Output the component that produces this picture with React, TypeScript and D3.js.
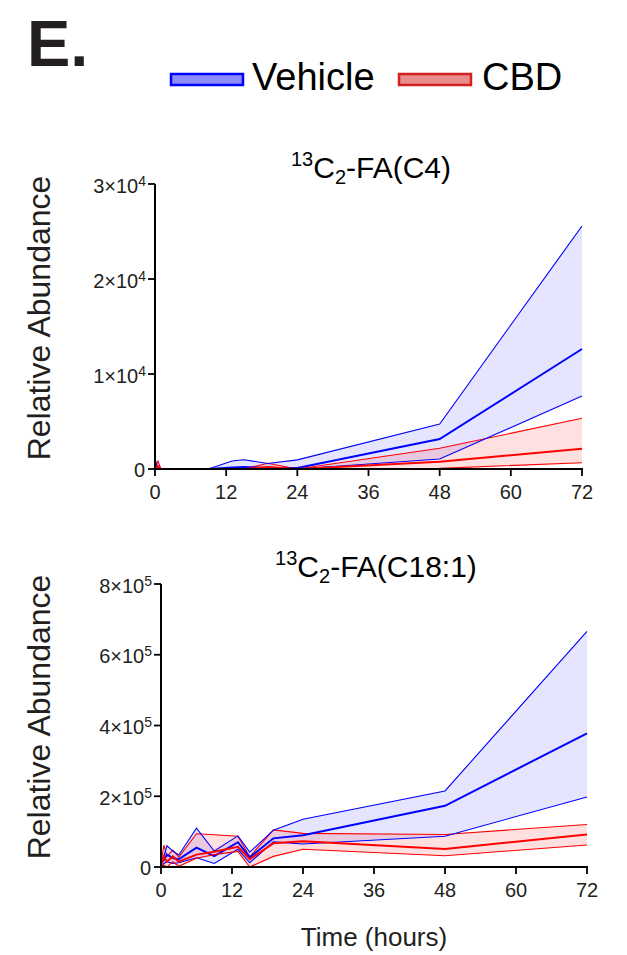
import React from 'react';
import * as d3 from 'd3';

// ---- Data ----
const times = [0, 0.5, 1, 2, 3, 6, 9, 13, 15, 19, 24, 48, 72];
const xTicks = [0, 12, 24, 36, 48, 60, 72];

// 13C2-FA(C4)
const vehMeanC4 = [300, 0, 0, 0, 0, 0, 0, 150, 200, 100, 100, 3150, 12630];
const vehUpperC4 = [1100, 0, 0, 0, 0, 0, 0, 850, 980, 580, 960, 4740, 25580];
const vehLowerC4 = [0, 0, 0, 0, 0, 0, 0, 0, 0, 0, 0, 1050, 7680];
const cbdMeanC4 = [0, 300, 0, 0, 0, 0, 0, 0, 0, 200, 0, 770, 2140];
const cbdUpperC4 = [0, 840, 0, 0, 0, 0, 0, 0, 0, 600, 0, 2180, 5340];
const cbdLowerC4 = [0, 0, 0, 0, 0, 0, 0, 0, 0, 0, 0, 70, 660];
const yTicksC4 = [0, 10000, 20000, 30000];

// 13C2-FA(C18:1)
const vehMeanC18 = [10000, 20000, 35000, 25000, 22000, 55000, 31000, 70000, 27000, 81000, 90000, 173000, 378000];
const vehUpperC18 = [20000, 30000, 60000, 45000, 34000, 110000, 45000, 88000, 42000, 104000, 135000, 215000, 666000];
const vehLowerC18 = [0, 10000, 15000, 10000, 12000, 26000, 10000, 50000, 12000, 71000, 65000, 87000, 198000];
const cbdMeanC18 = [5000, 30000, 15000, 30000, 15000, 35000, 43000, 57000, 22000, 67000, 73000, 51000, 92000];
const cbdUpperC18 = [10000, 62000, 30000, 48000, 28000, 94000, 91000, 87000, 29000, 105000, 95000, 92000, 120000];
const cbdLowerC18 = [0, 5000, 0, 15000, 2000, 25000, 35000, 44000, 0, 30000, 50000, 32000, 62000];
const yTicksC18 = [0, 200000, 400000, 600000, 800000];

const seriesNames = ['Vehicle', 'CBD'];

const FONT = "'Liberation Sans', Arial, Helvetica, sans-serif";
const BLUE = '#0000ff';
const RED = '#ff0000';
const BLUE_FILL = 'rgba(0,0,255,0.10)';
const RED_FILL = 'rgba(255,0,0,0.12)';

type Band = { mean: number[]; upper: number[]; lower: number[] };

function Panel(props: {
  x0: number; x1: number; yTop: number; yBot: number;
  yMax: number; yTicks: number[]; exp: number; labelY: number;
  title: React.ReactNode; titleX: number; titleY: number;
  veh: Band; cbd: Band; showXTitle?: boolean;
}) {
  const { x0, x1, yTop, yBot, yMax, yTicks, exp, veh, cbd } = props;
  const x = d3.scaleLinear().domain([0, 72]).range([x0, x1]);
  const y = d3.scaleLinear().domain([0, yMax]).range([yBot, yTop]);
  const idx = times.map((_, i) => i);
  const area = (b: Band) =>
    d3.area<number>().x(i => x(times[i])).y0(i => y(b.lower[i])).y1(i => y(b.upper[i]))(idx) || '';
  const line = (arr: number[]) => d3.line<number>().x(i => x(times[i])).y(i => y(arr[i]))(idx) || '';

  const tickLen = 7;
  return (
    <g>
      <text x={props.titleX} y={props.titleY} textAnchor="middle" fontFamily={FONT} fontSize={30} fill="#000">
        {props.title}
      </text>
      <path d={area(veh)} fill={BLUE_FILL} stroke="none" />
      <path d={area(cbd)} fill={RED_FILL} stroke="none" />
      <path d={line(cbd.upper)} fill="none" stroke={RED} strokeWidth={1.1} />
      <path d={line(veh.upper)} fill="none" stroke={BLUE} strokeWidth={1.1} />
      <path d={line(veh.lower)} fill="none" stroke={BLUE} strokeWidth={1.1} />
      <path d={line(veh.mean)} fill="none" stroke={BLUE} strokeWidth={2} />
      <path d={line(cbd.lower)} fill="none" stroke={RED} strokeWidth={1.1} />
      <path d={line(cbd.mean)} fill="none" stroke={RED} strokeWidth={2} />
      {/* axes */}
      <line x1={x0} x2={x0} y1={yTop} y2={yBot} stroke="#000" strokeWidth={2} />
      <line x1={x0 - 1} x2={x1 + 1} y1={yBot} y2={yBot} stroke="#000" strokeWidth={2} />
      {yTicks.map(v => (
        <g key={v}>
          <line x1={x0 - tickLen} x2={x0} y1={y(v)} y2={y(v)} stroke="#000" strokeWidth={1.8} />
          {v === 0 ? (
            <text x={x0 - tickLen - 3} y={y(v) + 7.5} textAnchor="end" fontFamily={FONT} fontSize={20} fill="#231f20">0</text>
          ) : (
            <text x={x0 - tickLen - 2} y={y(v) + 8.5} textAnchor="end" fontFamily={FONT} fontSize={20} fill="#231f20">
              {`${d3.format('d')(v / Math.pow(10, exp))}×10`}
              <tspan fontSize={14} dy={-7}>{exp}</tspan>
            </text>
          )}
        </g>
      ))}
      {xTicks.map(t => (
        <g key={t}>
          <line x1={x(t)} x2={x(t)} y1={yBot} y2={yBot + tickLen} stroke="#000" strokeWidth={1.8} />
          <text x={x(t)} y={yBot + 30} textAnchor="middle" fontFamily={FONT} fontSize={20} fill="#231f20">{t}</text>
        </g>
      ))}
      <text
        transform={`translate(${50},${props.labelY}) rotate(-90)`}
        textAnchor="middle" fontFamily={FONT} fontSize={32} fill="#231f20"
      >Relative Abundance</text>
      {props.showXTitle && (
        <text x={(x0 + x1) / 2} y={yBot + 79} textAnchor="middle" fontFamily={FONT} fontSize={26} fill="#231f20">Time (hours)</text>
      )}
    </g>
  );
}

export default function App() {
  const title = (chain: string) => (
    <>
      <tspan fontSize={20} dy={-12}>13</tspan>
      <tspan dy={12}>C</tspan>
      <tspan fontSize={20} dy={6}>2</tspan>
      <tspan dy={-6}>{`-FA(${chain})`}</tspan>
    </>
  );
  return (
    <svg width={627} height={955} style={{ position: 'absolute', left: 0, top: 0, background: '#fff' }}>
      <rect x={0} y={0} width={627} height={955} fill="#fff" />
      <text x={27} y={66} fontFamily={FONT} fontWeight="bold" fontSize={65} fill="#231f20">E.</text>
      {/* legend */}
      <rect x={171} y={74} width={72} height={11} fill="rgba(0,0,255,0.45)" stroke={BLUE} strokeWidth={2.5} />
      <text x={252} y={90} fontFamily={FONT} fontSize={38} fill="#000">{seriesNames[0]}</text>
      <rect x={399} y={74} width={72} height={11} fill="rgba(204,0,0,0.45)" stroke="#d42020" strokeWidth={2.5} />
      <text x={482} y={90} fontFamily={FONT} fontSize={38} fill="#000">{seriesNames[1]}</text>

      <Panel x0={155} x1={582} yTop={184} yBot={469} yMax={30000} yTicks={yTicksC4} exp={4} labelY={318}
        title={title('C4')} titleX={371} titleY={178}
        veh={{ mean: vehMeanC4, upper: vehUpperC4, lower: vehLowerC4 }}
        cbd={{ mean: cbdMeanC4, upper: cbdUpperC4, lower: cbdLowerC4 }} />
      <Panel x0={161} x1={587} yTop={584} yBot={867} yMax={800000} yTicks={yTicksC18} exp={5} labelY={717}
        title={title('C18:1')} titleX={376} titleY={577}
        veh={{ mean: vehMeanC18, upper: vehUpperC18, lower: vehLowerC18 }}
        cbd={{ mean: cbdMeanC18, upper: cbdUpperC18, lower: cbdLowerC18 }} showXTitle />
    </svg>
  );
}
